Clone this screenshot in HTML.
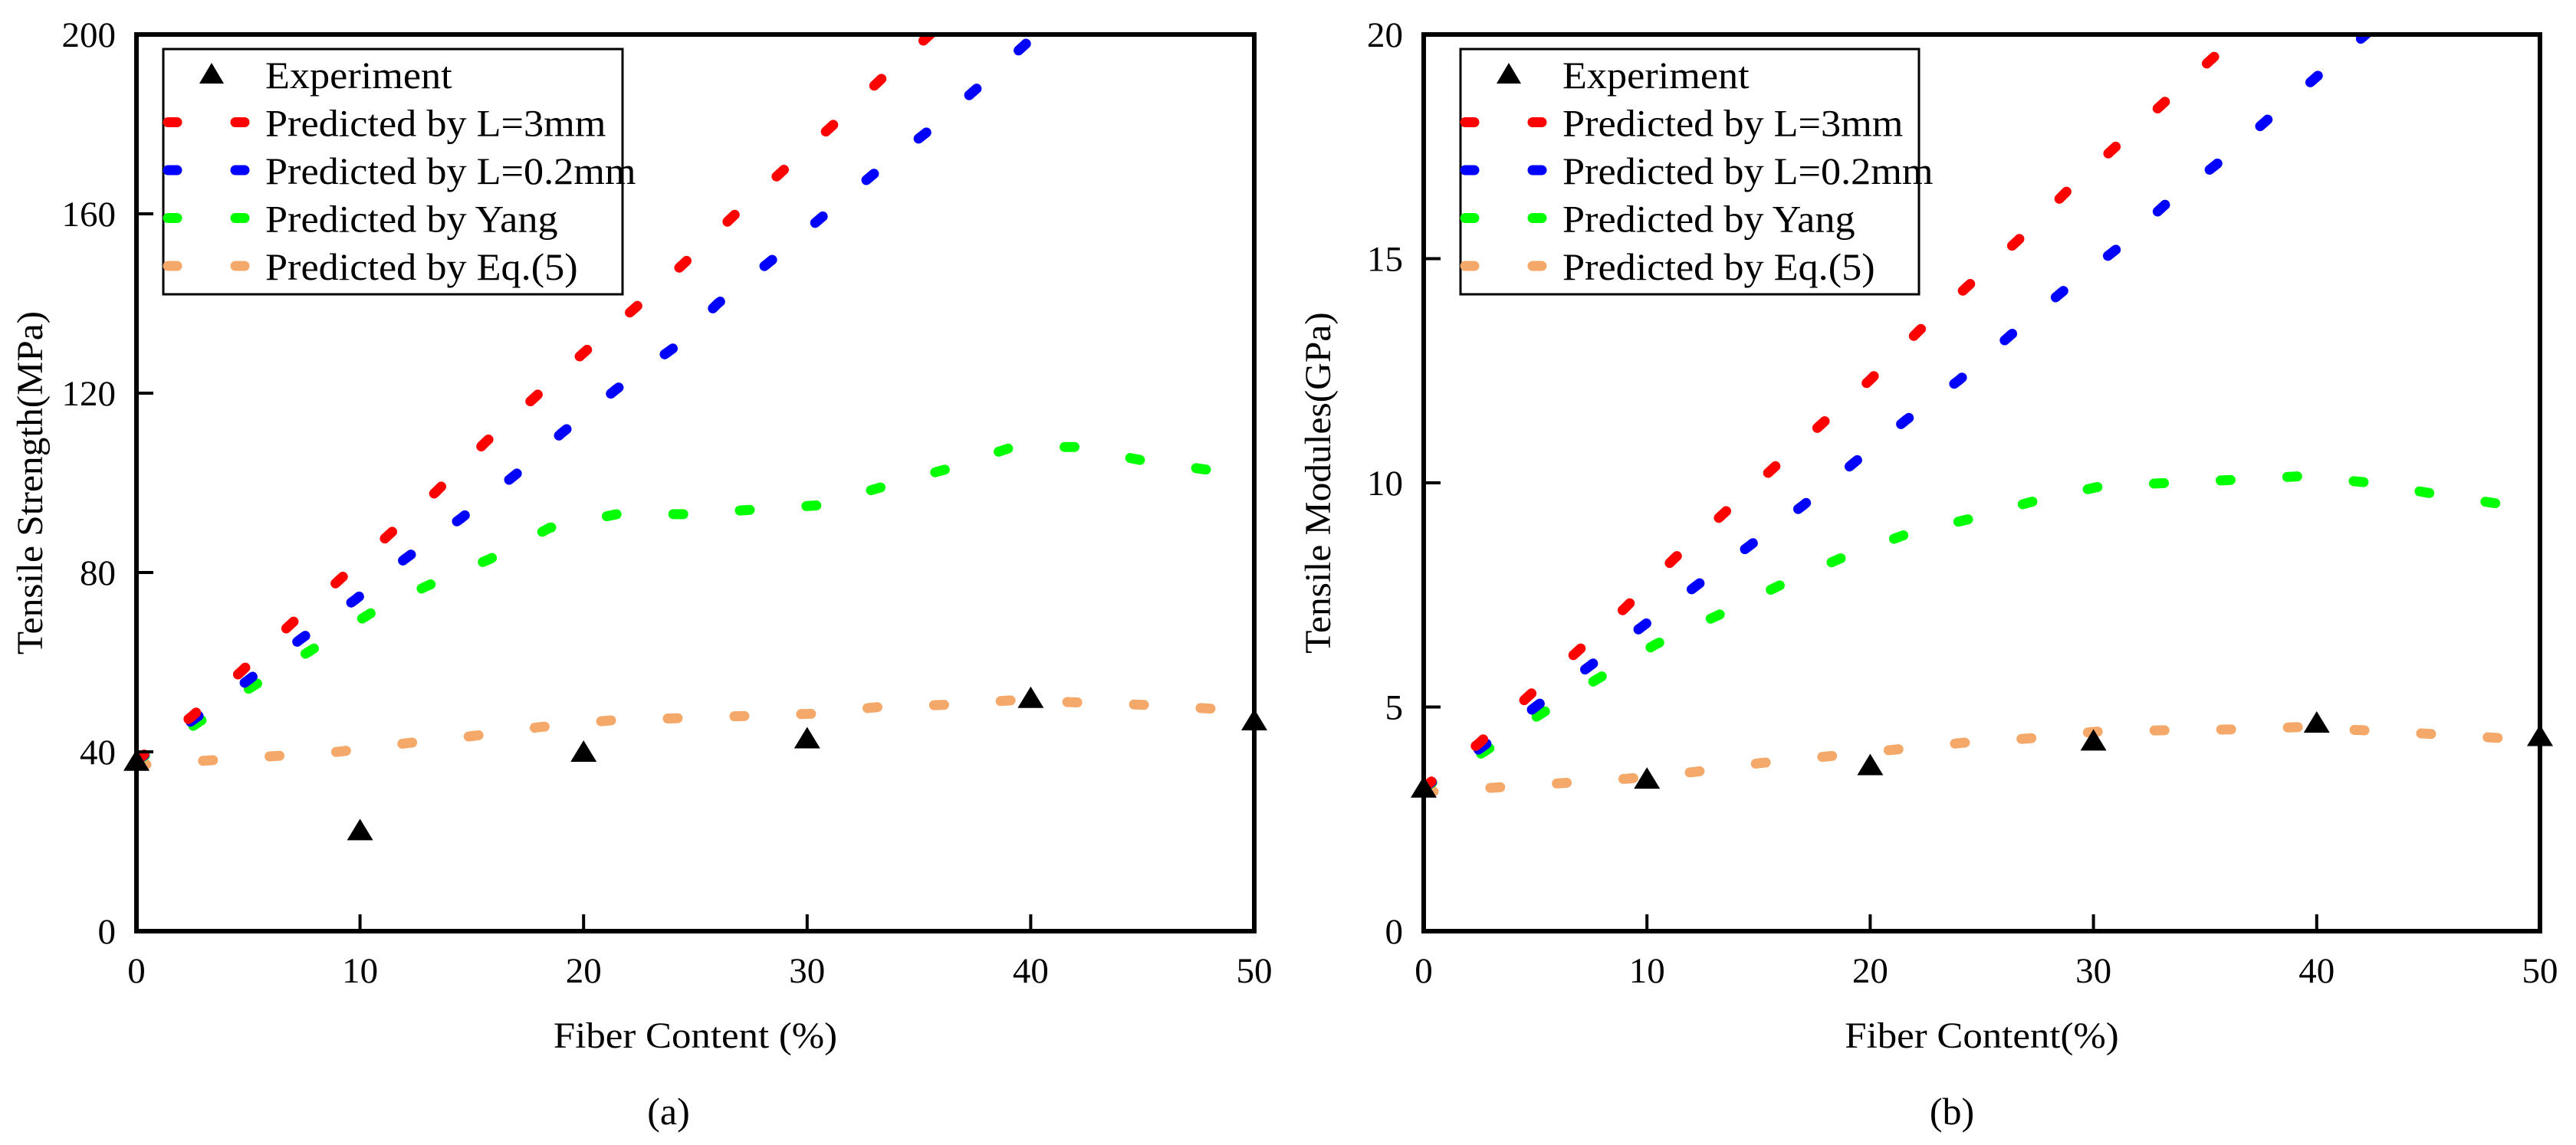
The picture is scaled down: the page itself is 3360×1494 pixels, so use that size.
<!DOCTYPE html>
<html><head><meta charset="utf-8"><style>
html,body{margin:0;padding:0;background:#fff;}
svg{display:block;font-family:"Liberation Serif","DejaVu Serif",serif;}
</style></head><body>
<svg id="fig" width="3360" height="1494" viewBox="0 0 3360 1494" xmlns="http://www.w3.org/2000/svg"></svg>
<script>
// ---- Chart (a): Tensile Strength ----
const aTicksX = [0,10,20,30,40,50];
const aTicksY = [0,40,80,120,160,200];
const aExpX = [0,10,20,30,40,50];
const aExpY = [38,22.5,40,43,52,47];
const aRedX = [0,2.5,4.7,6.8,9,11.2,13.4,15.6,17.8,20,22.3,24.5,26.8,29,31.2,33.3,35.5,37];
const aRedY = [38,48,58,68,78,88,98,109,119,129,139,149,160,170,180,190,200,207];
const aBlueX = [0,2.5,5,7.3,9.8,12,14.5,17,19,21.5,24,26,28.5,30.6,33,35.3,37.6,39.8,41];
const aBlueY = [38,47,56,65,74,83,92,102,111,121,130,140,150,159,169,178,188,198,204];
const aGreenX = [0,2.6,5,7.6,10.5,13,15.8,18.5,21.5,24.5,27.5,30.5,33.3,36.2,39.2,42,45,48.5];
const aGreenY = [38,46,54,62,71,77,83,90,93,93,94,95,99,103,108,108,105,102.5];
const aOrX = [0,3,6,9,12.2,15,18,21.2,24.2,27.2,30.2,33.2,36.2,39.2,42.2,45,48.5];
const aOrY = [37,38,39,40,42,43.5,45.5,47,47.5,48,48.5,50,50.5,51.5,51,50.5,49.5];
// ---- Chart (b): Tensile Modules ----
const bTicksX = [0,10,20,30,40,50];
const bTicksY = [0,5,10,15,20];
const bExpX = [0,10,20,30,40,50];
const bExpY = [3.2,3.4,3.7,4.25,4.65,4.35];
const bRedX = [0,2.5,4.6,6.8,9,11.2,13.4,15.6,17.8,20,22.2,24.4,26.6,28.8,31,33.2,35.4,37];
const bRedY = [3.2,4.2,5.2,6.2,7.2,8.3,9.3,10.3,11.3,12.3,13.4,14.4,15.4,16.5,17.5,18.5,19.5,20.3];
const bBlueX = [0,2.6,5,7.4,9.8,12.2,14.6,17,19.4,21.6,24,26.3,28.7,31,33.2,35.5,37.8,40.1,42.2,43];
const bBlueY = [3.2,4.1,5.0,5.9,6.8,7.7,8.6,9.5,10.5,11.4,12.3,13.3,14.3,15.2,16.2,17.1,18.1,19.1,20,20.4];
const bGreenX = [0,2.7,5.1,7.7,10.4,13.2,15.9,18.6,21.6,24.5,27.4,30.4,33.4,36.4,39.4,42.4,45.3,48.6];
const bGreenY = [3.2,4.0,4.8,5.6,6.4,7.05,7.7,8.3,8.85,9.2,9.6,9.93,10,10.07,10.15,10,9.75,9.5];
const bOrX = [0,3.1,6.1,9.1,12.1,15.1,18.1,21.1,24.1,27.1,30.1,33.1,36.1,39.1,42.1,45.1,48.5];
const bOrY = [3.1,3.2,3.3,3.4,3.55,3.75,3.9,4.05,4.2,4.3,4.45,4.48,4.5,4.55,4.48,4.4,4.3];

const NS = "http://www.w3.org/2000/svg";
const svg = document.getElementById('fig');
function mk(tag, attrs, parent){
  const e = document.createElementNS(NS, tag);
  for (const k in attrs) e.setAttribute(k, attrs[k]);
  (parent||svg).appendChild(e);
  return e;
}
function txt(parent, x, y, s, size, anchor, sx){
  const t = mk('text', {x:0, y:0, 'font-size':size, 'text-anchor':anchor,
    transform:`translate(${x},${y}) scale(${sx},1)`}, parent);
  t.textContent = s;
  return t;
}
const COLORS = {red:'#ff0000', blue:'#0000ff', green:'#00ff00', orange:'#f4a96a'};

function chart(o){
  const g = mk('g', {});
  
  
  const sx = v => o.x0 + (v - o.xmin) / (o.xmax - o.xmin) * (o.x1 - o.x0);
  const sy = v => o.y1 - (v - o.ymin) / (o.ymax - o.ymin) * (o.y1 - o.y0);
  const cid = 'clip-' + o.name;
  const defs = mk('defs', {}, g);
  const cp = mk('clipPath', {id: cid}, defs);
  mk('rect', {x:o.x0, y:o.y0-2, width:o.x1-o.x0, height:o.y1-o.y0+2}, cp);

  const series = [
    ['series-eq5', o.orX, o.orY, COLORS.orange],
    ['series-yang', o.greenX, o.greenY, COLORS.green],
    ['series-l02mm', o.blueX, o.blueY, COLORS.blue],
    ['series-l3mm', o.redX, o.redY, COLORS.red],
  ];
  series.forEach(s => {
    const pts = s[1].map((x,i) => sx(x).toFixed(1) + ',' + sy(s[2][i]).toFixed(1)).join(' ');
    const pl = mk('polyline', {points: pts, fill:'none', stroke:s[3], 'stroke-width':13,
      'stroke-linecap':'round', 'stroke-dasharray':'13 74', 'clip-path':'url(#'+cid+')'}, g);
    
    
  });
  o.expX.forEach((x,i) => {
    const cx = sx(x), cy = sy(o.expY[i]);
    const t = mk('polygon', {points: `${cx-17},${cy+13} ${cx+17},${cy+13} ${cx},${cy-15}`, fill:'#000'}, g);
    
    
  });
  const fr = mk('rect', {x:o.x0, y:o.y0, width:o.x1-o.x0, height:o.y1-o.y0, fill:'none', stroke:'#000', 'stroke-width':6}, g);
  
  
  o.ticksX.forEach(v => {
    const x = sx(v);
    mk('line', {x1:x, x2:x, y1:o.y1, y2:o.y1-22, stroke:'#000', 'stroke-width':4}, g);
    const t = txt(g, x, 1282, String(v), 47, 'middle', 1);
    
    
  });
  o.ticksY.forEach(v => {
    const y = sy(v);
    mk('line', {x1:o.x0, x2:o.x0+22, y1:y, y2:y, stroke:'#000', 'stroke-width':4}, g);
    const t = txt(g, o.x0-27, y+16, String(v), 47, 'end', 1);
    
    
  });
  const xt = txt(g, (o.x0+o.x1)/2, 1367, o.xTitle, 48, 'middle', 1.06);
  
  
  const yt = mk('text', {x:0, y:0, 'font-size':48, 'text-anchor':'middle', transform:`translate(${o.yTitleX},${(o.y0+o.y1)/2}) rotate(-90) scale(1.03,1)`}, g);
  yt.textContent = o.yTitle;
  
  
  const cap = txt(g, o.capX, 1467, o.caption, 50, 'middle', 1);
  
  

  const lg = mk('g', {}, g);
  
  
  const lx = o.legX, ly = 64;
  mk('rect', {x:lx, y:ly, width:o.legW, height:320, fill:'#fff', stroke:'#000', 'stroke-width':3}, lg);
  const rows = [
    ['Experiment', null], ['Predicted by L=3mm', COLORS.red], ['Predicted by L=0.2mm', COLORS.blue],
    ['Predicted by Yang', COLORS.green], ['Predicted by Eq.(5)', COLORS.orange]
  ];
  rows.forEach((r,i) => {
    const cy = ly + 33 + i*62.5;
    if (r[1] === null) {
      const cx = lx + 63;
      mk('polygon', {points:`${cx-16},${cy+12} ${cx+16},${cy+12} ${cx},${cy-15}`, fill:'#000'}, lg);
    } else {
      mk('line', {x1:lx+6, x2:lx+18, y1:cy, y2:cy, stroke:r[1], 'stroke-width':13, 'stroke-linecap':'round'}, lg);
      mk('line', {x1:lx+94, x2:lx+106, y1:cy, y2:cy, stroke:r[1], 'stroke-width':13, 'stroke-linecap':'round'}, lg);
    }
    const t = txt(lg, lx+133, cy+18, r[0], 50, 'start', 1.045);
    
    
  });
}

chart({name:'chart-a-tensile-strength', x0:178, x1:1636, y0:45, y1:1215, xmin:0, xmax:50, ymin:0, ymax:200,
  ticksX:aTicksX, ticksY:aTicksY, expX:aExpX, expY:aExpY, redX:aRedX, redY:aRedY, blueX:aBlueX, blueY:aBlueY,
  greenX:aGreenX, greenY:aGreenY, orX:aOrX, orY:aOrY, xTitle:'Fiber Content (%)', yTitle:'Tensile Strength(MPa)',
  yTitleX:55, capX:872, caption:'(a)', legX:213, legW:599});
chart({name:'chart-b-tensile-modules', x0:1857, x1:3313, y0:45, y1:1215, xmin:0, xmax:50, ymin:0, ymax:20,
  ticksX:bTicksX, ticksY:bTicksY, expX:bExpX, expY:bExpY, redX:bRedX, redY:bRedY, blueX:bBlueX, blueY:bBlueY,
  greenX:bGreenX, greenY:bGreenY, orX:bOrX, orY:bOrY, xTitle:'Fiber Content(%)', yTitle:'Tensile Modules(GPa)',
  yTitleX:1735, capX:2546, caption:'(b)', legX:1905, legW:598});
</script>
</body></html>
